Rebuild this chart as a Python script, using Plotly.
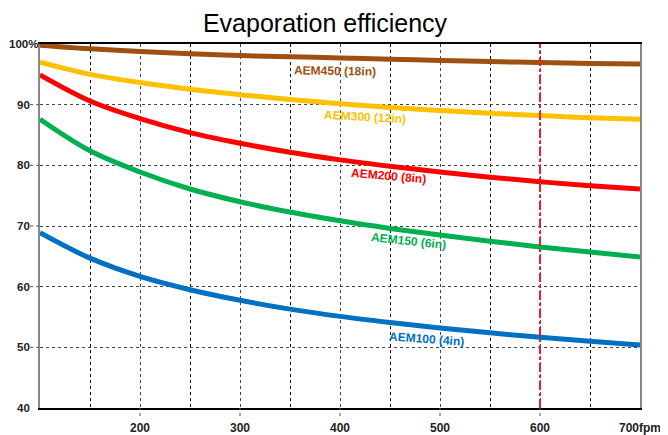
import plotly.graph_objects as go

speed = [100, 150, 200, 250, 300, 350, 400, 450, 500, 550, 600, 650, 700]
aem450 = [99.8, 99.2, 98.75, 98.4, 98.1, 97.9, 97.7, 97.5, 97.3, 97.1, 96.95, 96.8, 96.7]
aem300 = [97.0, 95.0, 93.65, 92.55, 91.65, 90.85, 90.15, 89.55, 89.05, 88.6, 88.2, 87.85, 87.6]
aem200 = [94.9, 90.6, 87.7, 85.4, 83.65, 82.15, 80.9, 79.85, 78.9, 78.05, 77.3, 76.65, 76.1]
aem150 = [87.6, 82.4, 78.9, 76.1, 74.0, 72.3, 70.85, 69.6, 68.5, 67.5, 66.55, 65.7, 64.9]
aem100 = [68.9, 64.7, 61.7, 59.5, 57.75, 56.3, 55.1, 54.1, 53.2, 52.4, 51.65, 51.0, 50.4]

series_names = ["AEM450 (18in)", "AEM300 (12in)", "AEM200 (8in)", "AEM150 (6in)", "AEM100 (4in)"]
series_values = [aem450, aem300, aem200, aem150, aem100]
colors = ["#9E5012", "#FFC000", "#FF0000", "#00B050", "#0070C0"]

# label anchor positions (data coords) and angles
label_x = [395, 425, 448, 468, 486]
label_y = [95.5, 87.9, 78.2, 67.6, 51.4]
label_angle = [1, 3, 5, 6, 4]

x_ticks = [200, 300, 400, 500, 600, 700]
x_ticktext = ["200", "300", "400", "500", "600", "700fpm"]
y_ticks = [40, 50, 60, 70, 80, 90, 100]
y_ticktext = ["40", "50", "60", "70", "80", "90", "100%"]
marker_speed = 600

# page body has an 8px margin: figure is drawn 8px right/down of the window origin
W, H, OFF = 660, 427, 8
PW, PH = 600, 364  # plot area size in px

fig = go.Figure()
for name, vals, c in zip(series_names, series_values, colors):
    fig.add_trace(go.Scatter(x=speed, y=vals, mode="lines", name=name,
                             line=dict(color=c, width=5, shape="spline", smoothing=1.0),
                             showlegend=False))

for name, c, lx, ly, ang in zip(series_names, colors, label_x, label_y, label_angle):
    fig.add_annotation(x=lx, y=ly, text=name, showarrow=False,
                       textangle=ang,
                       font=dict(family="Liberation Sans", size=12, color=c, weight="bold"))

# y tick labels, centred like the reference
for v, t in zip(y_ticks, y_ticktext):
    fig.add_annotation(x=-17 / PW, xref="paper", y=v, yref="y", text=t, showarrow=False,
                       xanchor="center", yanchor="middle",
                       font=dict(family="Liberation Sans", size=11.5, color="#222", weight="bold"))

# dotted tick extensions outside the plot area
for v in y_ticks[1:-1]:
    fig.add_shape(type="line", xref="paper", yref="y", x0=-10 / PW, x1=0, y0=v, y1=v,
                  line=dict(color="#555", width=1, dash="dot"))
for v in x_ticks[:-1]:
    fig.add_shape(type="line", xref="x", yref="paper", x0=v, x1=v, y0=-8 / PH, y1=0,
                  line=dict(color="#555", width=1, dash="dot"))

fig.add_shape(type="line", x0=marker_speed, x1=marker_speed, y0=40, y1=100,
              xref="x", yref="y", line=dict(color="#E8202A", width=2, dash="dashdot"))

tickfont = dict(family="Liberation Sans", size=12, color="#222", weight="bold")
fig.update_layout(
    width=W, height=H,
    margin=dict(l=40 - OFF, r=W + OFF - 640, t=44 - OFF, b=H + OFF - 408),
    paper_bgcolor="white", plot_bgcolor="white",
    title=dict(text="Evaporation efficiency", x=(325 - OFF) / W, xref="container", xanchor="center",
               y=1 - (23 - OFF) / H, yref="container", yanchor="middle",
               font=dict(family="Liberation Sans", size=25, color="black")),
    xaxis=dict(range=[100, 700], tickvals=x_ticks, ticktext=x_ticktext,
               showgrid=True, gridcolor="#444", griddash="dot", gridwidth=1,
               minor=dict(tick0=150, dtick=100, showgrid=True, gridcolor="black", gridwidth=1.2),
               ticks="outside", ticklen=8, tickcolor="rgba(0,0,0,0)",
               showline=True, linecolor="black", linewidth=1.5, mirror=True,
               tickfont=tickfont, automargin=False, zeroline=False),
    yaxis=dict(range=[40, 100], tickvals=y_ticks, showticklabels=False,
               showgrid=True, gridcolor="#444", griddash="dot", gridwidth=1,
               ticks="", showline=True, linecolor="#888", linewidth=2, mirror=True,
               automargin=False, zeroline=False),
)

fig.write_html("out.html")
